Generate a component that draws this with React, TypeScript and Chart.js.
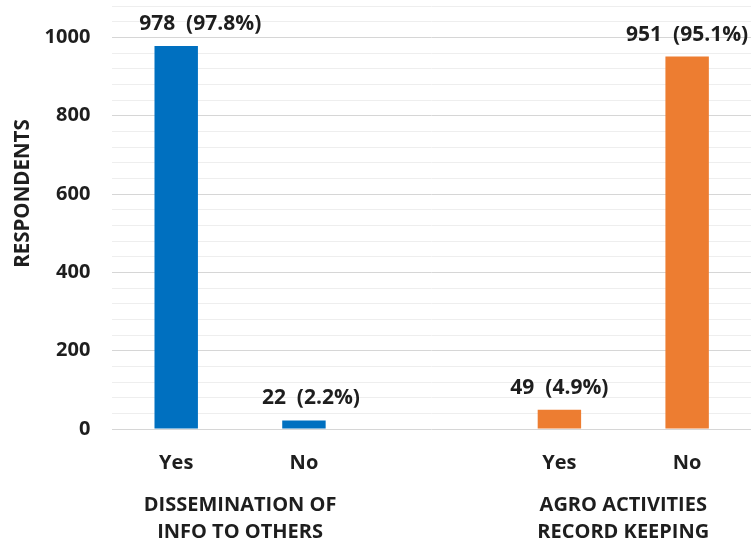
import React, { useEffect, useRef } from "react";
import { Chart, registerables } from "chart.js";

Chart.register(...registerables);

const CATEGORIES = ["Yes", "No", "", "Yes", "No"];
const VALUES: (number | null)[] = [978, 22, null, 49, 951];
const PERCENTS = ["97.8%", "2.2%", "", "4.9%", "95.1%"];
const GROUP_LABELS = [
  ["DISSEMINATION OF", "INFO TO OTHERS"],
  ["AGRO ACTIVITIES", "RECORD KEEPING"],
];
const GROUP_CENTERS = [0.5, 3.5];
const Y_LABELED_TICKS = [0, 200, 400, 600, 800, 1000];
const Y_TITLE = "RESPONDENTS";

const BLUE = "#0070C0";
const ORANGE = "#ED7D31";
const BAR_COLORS = [BLUE, BLUE, BLUE, ORANGE, ORANGE];
const TEXT = "#1e1e1e";
const FONT = "'Open Sans', sans-serif";
const LABEL_NUDGE_X = [24, 7, 0, 0, 0];

const valueLabels = {
  id: "valueLabels",
  afterDatasetsDraw(chart: any) {
    const ctx = chart.ctx;
    const meta = chart.getDatasetMeta(0);
    ctx.save();
    ctx.font = `bold 21px ${FONT}`;
    ctx.fillStyle = TEXT;
    ctx.textAlign = "center";
    ctx.textBaseline = "middle";
    meta.data.forEach((bar: any, i: number) => {
      const v = VALUES[i];
      if (v == null) return;
      ctx.fillText(`${v}  (${PERCENTS[i]})`, bar.x + LABEL_NUDGE_X[i], bar.y - 22);
    });
    ctx.restore();
  },
};

export default function App() {
  const ref = useRef<HTMLCanvasElement>(null);
  useEffect(() => {
    document.body.style.margin = "0";
    const chart = new Chart(ref.current!, {
      type: "bar",
      data: {
        labels: CATEGORIES,
        datasets: [
          {
            data: VALUES,
            backgroundColor: BAR_COLORS,
            borderWidth: 0,
            barPercentage: 0.34,
            categoryPercentage: 1,
          },
        ],
      },
      options: {
        animation: false,
        responsive: false,
        devicePixelRatio: 1,
        layout: { padding: { top: 6, right: 0, bottom: 0, left: 0 } },
        plugins: {
          legend: { display: false },
          tooltip: { enabled: false },
        },
        scales: {
          y: {
            min: 0,
            max: 1080,
            ticks: {
              stepSize: 40,
              padding: 2,
              autoSkip: false,
              color: TEXT,
              font: { family: FONT, weight: "bold", size: 20 },
              callback: (v: any) => (Y_LABELED_TICKS.includes(Number(v)) ? String(v) : []),
            },
            grid: {
              drawTicks: true,
              tickLength: 20,
              tickColor: "rgba(0,0,0,0)",
              color: (c: any) =>
                Y_LABELED_TICKS.includes(c.tick.value) ? "#d6d6d6" : "#eeeeee",
              lineWidth: 1,
            },
            border: { display: false },
            title: {
              display: true,
              text: "         " + Y_TITLE,
              color: TEXT,
              font: { family: FONT, weight: "bold", size: 20.5 },
              padding: { top: 11, bottom: 7 },
            },
          },
          x: {
            weight: 0,
            ticks: {
              padding: 2,
              color: TEXT,
              maxRotation: 0,
              autoSkip: false,
              font: { family: FONT, weight: "bold", size: 20 },
            },
            grid: { display: false, drawTicks: true, tickLength: 20 },
            border: { display: false },
          },
          x2: {
            type: "linear",
            position: "bottom",
            weight: 1,
            offset: false,
            min: -0.5,
            max: 4.5,
            afterBuildTicks: (axis: any) => {
              axis.ticks = GROUP_CENTERS.map((v) => ({ value: v }));
            },
            ticks: {
              padding: 0,
              color: TEXT,
              maxRotation: 0,
              autoSkip: false,
              font: { family: FONT, weight: "bold", size: 20, lineHeight: 1.35 },
              callback: (v: any) => GROUP_LABELS[GROUP_CENTERS.indexOf(Number(v))] ?? "",
            },
            grid: { display: false, drawTicks: true, tickLength: 15, offset: false },
            border: { display: false },
          },
        },
      } as any,
      plugins: [valueLabels],
    });
    return () => chart.destroy();
  }, []);
  return (
    <div style={{ width: 751, height: 546, background: "#fff" }}>
      <canvas ref={ref} width={751} height={546} />
    </div>
  );
}
